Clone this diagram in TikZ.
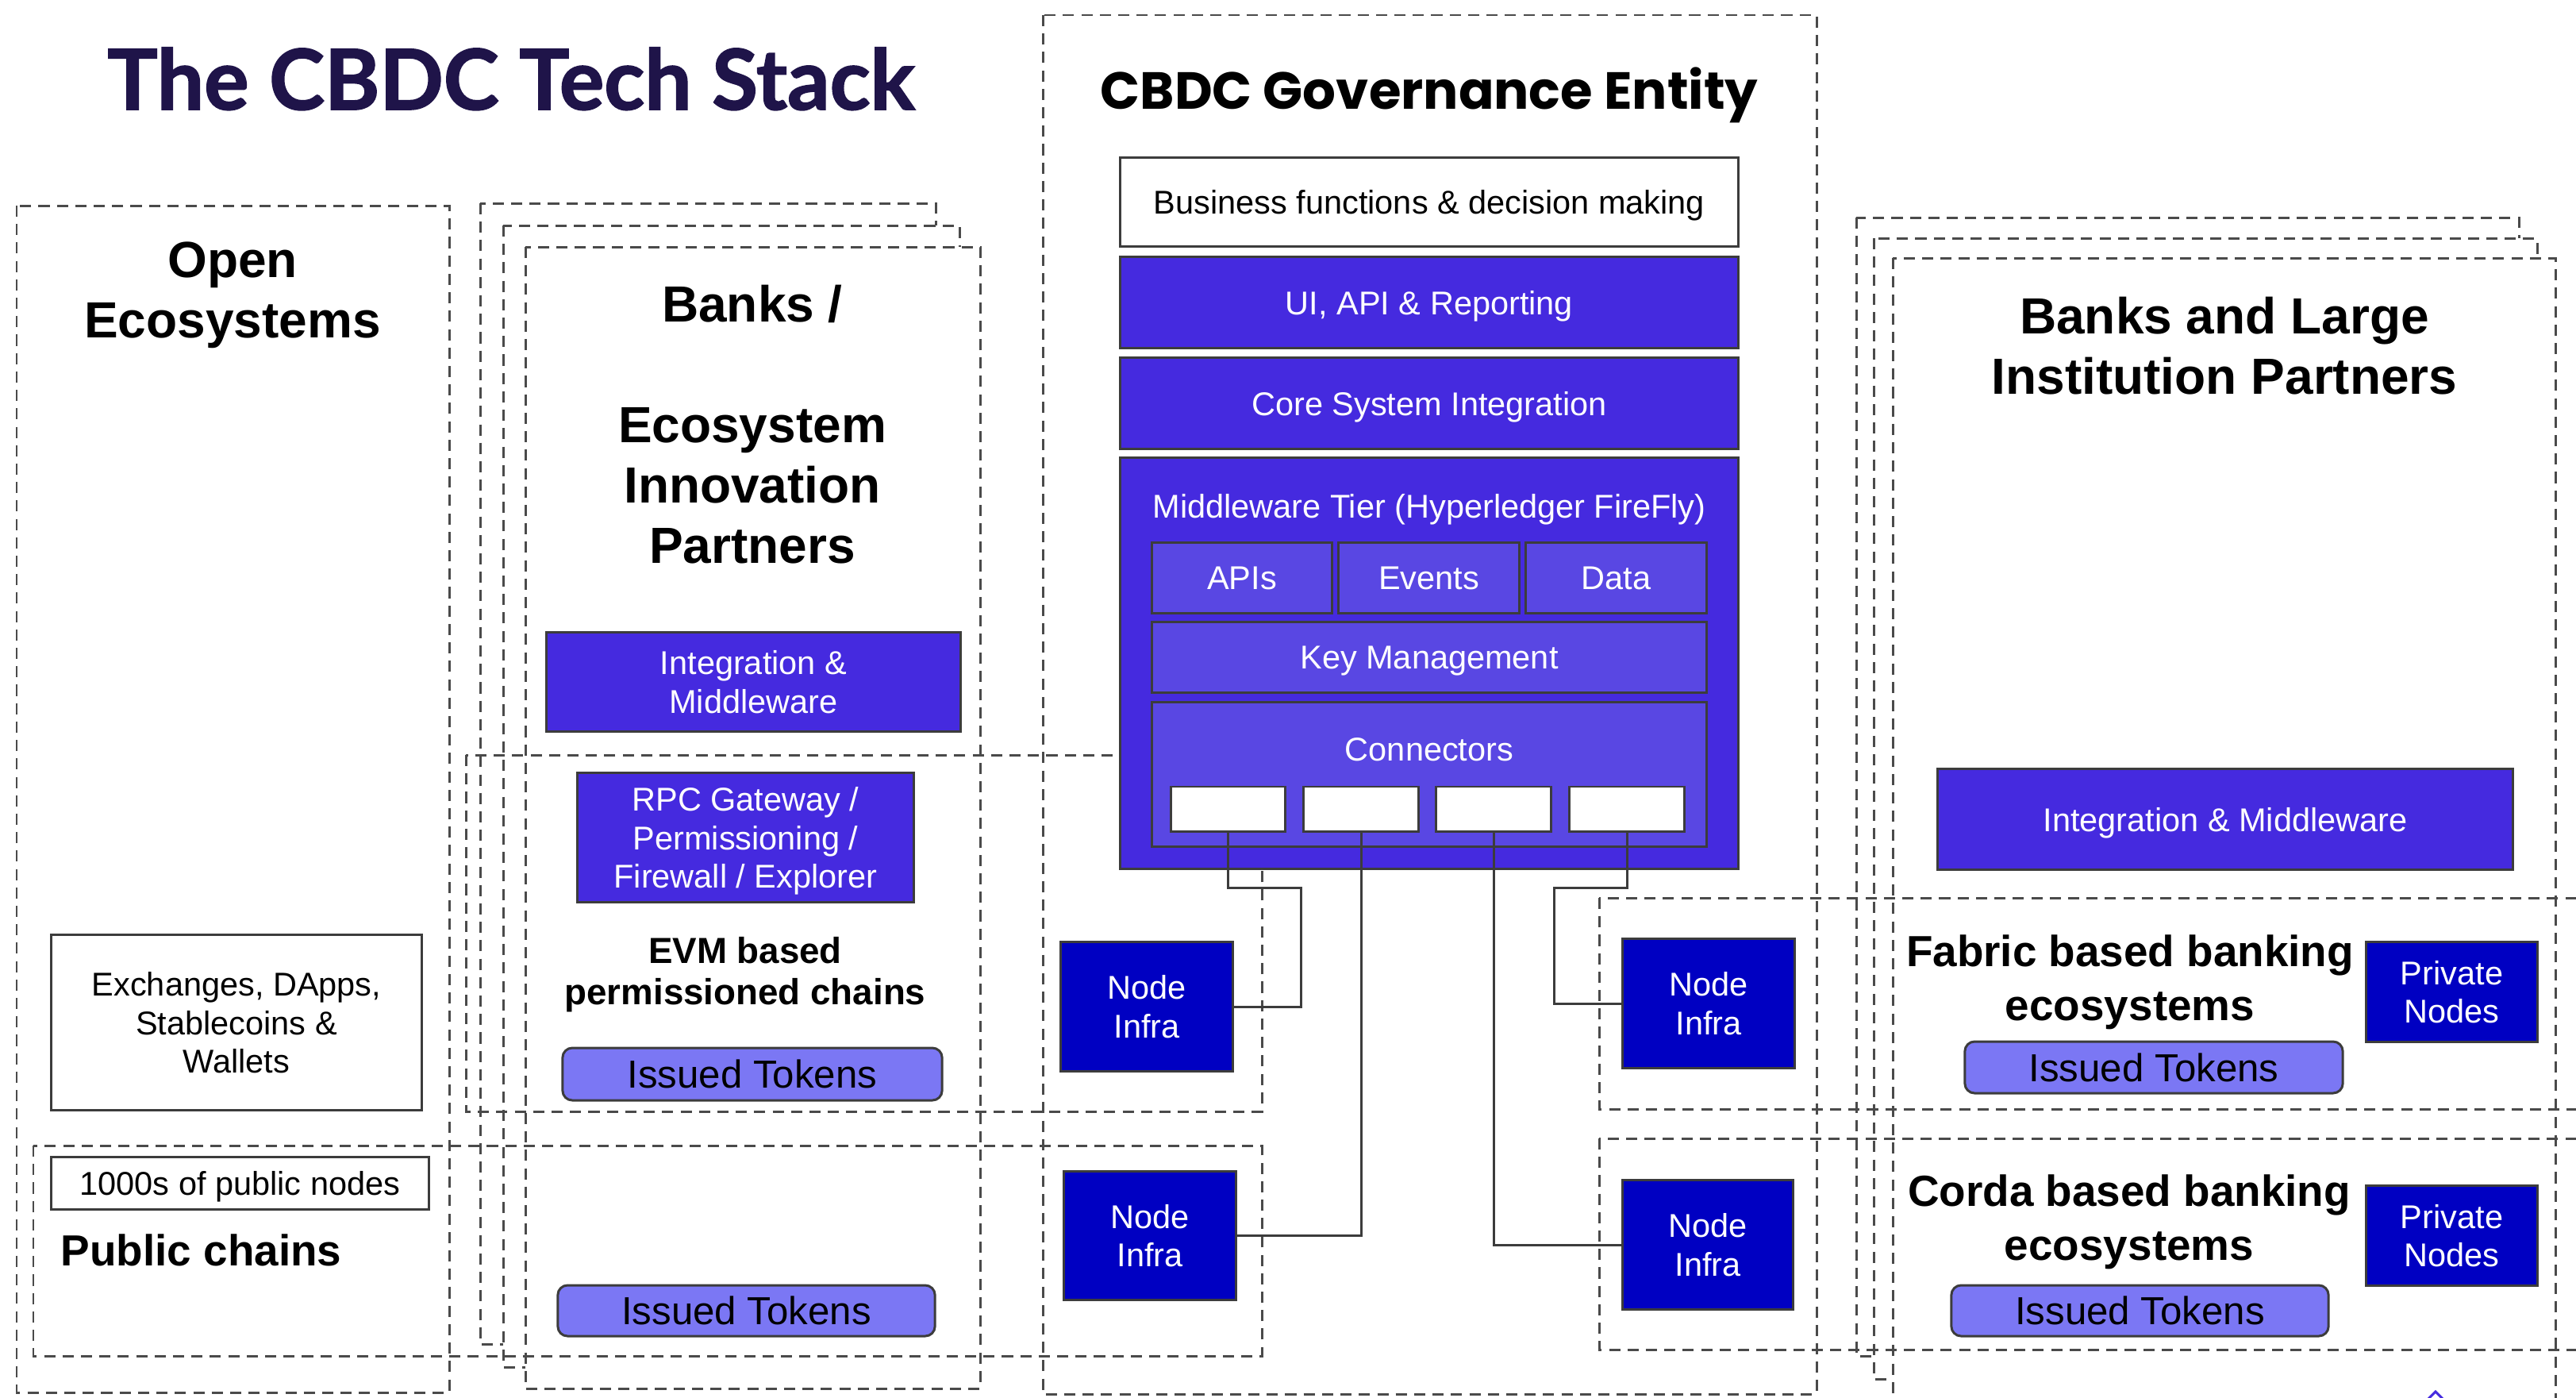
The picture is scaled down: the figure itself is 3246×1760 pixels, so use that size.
\documentclass[tikz,border=0pt]{standalone}
\usepackage{fontspec}
\setmainfont{Liberation Sans}
\newfontfamily\titlefont{Lato}[BoldFeatures={FakeBold=1.6}]
\newfontfamily\govfont{Poppins}
\definecolor{titlenavy}{HTML}{1F1449}
\definecolor{tierpurple}{HTML}{452ADF}
\definecolor{innerpurple}{HTML}{5947E3}
\definecolor{infrablue}{HTML}{0000C2}
\definecolor{tokenlilac}{HTML}{7B77F4}
\definecolor{dashgray}{HTML}{4A4A4A}
\definecolor{edgegray}{HTML}{3C3C3C}

\begin{document}
\begin{tikzpicture}[x=0.01cm, y=-0.01cm,
    dashbox/.style={draw=dashgray, line width=0.85pt, dash pattern=on 4pt off 2.6pt},
    card/.style={dashbox, fill=white},
    boxsize/.style 2 args={minimum width=#1cm, minimum height=#2cm},
    plainbox/.style={draw=edgegray, line width=0.85pt, fill=white, align=center, inner sep=0pt,
        text depth=0pt, font=\fontsize{11.8pt}{13.7pt}\selectfont},
    tierbox/.style={plainbox, fill=tierpurple, text=white},
    innerbox/.style={plainbox, fill=innerpurple, text=white},
    infrabox/.style={plainbox, fill=infrablue, text=white},
    tokenbox/.style={plainbox, fill=tokenlilac, rounded corners=3.5pt,
        font=\fontsize{14pt}{16pt}\selectfont},
    headtext/.style={align=center, inner sep=0pt, font=\bfseries\fontsize{18.2pt}{21.6pt}\selectfont},
    chaintext/.style={align=center, inner sep=0pt, font=\bfseries\fontsize{15.6pt}{19.3pt}\selectfont},
    evmtext/.style={align=center, inner sep=0pt, font=\bfseries\fontsize{13pt}{14.8pt}\selectfont},
    tiertext/.style={anchor=base, inner sep=0pt, text=white, font=\fontsize{11.8pt}{13.7pt}\selectfont},
    link/.style={draw=edgegray, line width=0.85pt}]
			%%%%% START %%%%%
			
			\fill[white] (0,0) rectangle (3246,1760);
			\useasboundingbox (0,0) rectangle (3246,1760);
			\clip (0,0) rectangle (3246,1760);
			
			\node[anchor=base, inner sep=0pt, text=titlenavy, font=\titlefont\bfseries\fontsize{30pt}{36pt}\selectfont] (title) at (644,138) {The CBDC Tech Stack};
			
			\draw[dashbox] (21,259) rectangle (566,1754);
			\draw[dashbox] (1314,19) rectangle (2289,1756);
			
			\draw[card] (605,256) rectangle (1179,1693);
			\draw[card] (634,284) rectangle (1209,1722);
			\draw[card] (662,311) rectangle (1235,1749);
			
			\draw[card] (2339,274) rectangle (3174,1708);
			\draw[card] (2361,300) rectangle (3197,1737);
			\draw[card] (2385,325) rectangle (3220,1790);
			
			\draw[dashbox] (587,951) rectangle (1590,1400);
			\draw[dashbox] (42,1443) rectangle (1590,1708);
			\draw[dashbox] (2015,1131) rectangle (3270,1397);
			\draw[dashbox] (2015,1434) rectangle (3270,1700);
			
			\node[anchor=base, inner sep=0pt, font=\govfont\bfseries\fontsize{18.7pt}{23pt}\selectfont] (govTitle) at (1801,137) {CBDC Governance Entity};
			
			\node[plainbox, boxsize={7.78}{1.11}] (bizfn) at (1801,254.5) {Business functions \& decision making};
			\node[tierbox, boxsize={7.78}{1.14}] (uiapi) at (1801,381) {UI, API \& Reporting};
			\node[tierbox, boxsize={7.78}{1.14}] (coresys) at (1801,508) {Core System Integration};
			\node[tierbox, boxsize={7.78}{5.17}] (mware) at (1801,835.5) {};
			\node[tiertext] (mwareTitle) at (1801,652) {Middleware Tier (Hyperledger FireFly)};
			\node[innerbox, boxsize={2.26}{0.88}] (apis) at (1565,728) {APIs};
			\node[innerbox, boxsize={2.27}{0.88}] (events) at (1800.5,728) {Events};
			\node[innerbox, boxsize={2.27}{0.88}] (data) at (2036.5,728) {Data};
			\node[innerbox, boxsize={6.98}{0.88}] (keymgmt) at (1801,828) {Key Management};
			\node[innerbox, boxsize={6.98}{1.81}] (connectors) at (1801,975.5) {};
			\node[tiertext] (connTitle) at (1801,958) {Connectors};
			\node[plainbox, boxsize={1.43}{0.56}] (conA) at (1547.5,1019) {};
			\node[plainbox, boxsize={1.44}{0.56}] (conB) at (1715,1019) {};
			\node[plainbox, boxsize={1.44}{0.56}] (conC) at (1882,1019) {};
			\node[plainbox, boxsize={1.44}{0.56}] (conD) at (2050,1019) {};
			
			\node[infrabox, boxsize={2.16}{1.62}] (infraA) at (1445,1268) {Node\\Infra};
			\node[infrabox, boxsize={2.16}{1.61}] (infraB) at (1449,1556.5) {Node\\Infra};
			\node[infrabox, boxsize={2.16}{1.62}] (infraC) at (2153,1264) {Node\\Infra};
			\node[infrabox, boxsize={2.14}{1.62}] (infraD) at (2152,1568) {Node\\Infra};
			
			\draw[link] (conA.south) -- ++(0,70) -- ++(92,0) |- (infraA.east);
			\draw[link] (conB.south) |- (infraB.east);
			\draw[link] (conC.south) |- (infraD.west);
			\draw[link] (conD.south) -- ++(0,70) -- ++(-92,0) |- (infraC.west);
			
			\node[headtext] (openEco) at (293,372) {Open\\Ecosystems};
			\node[plainbox, boxsize={4.66}{2.20}] (exchanges) at (298,1288) {Exchanges, DApps,\\Stablecoins \&\\Wallets};
			\node[plainbox, boxsize={4.75}{0.66}] (pubNodes) at (302.5,1490) {1000s of public nodes};
			\node[anchor=base west, inner sep=0pt, font=\bfseries\fontsize{15.6pt}{19pt}\selectfont] (publicText) at (76,1594) {Public chains};
			
			\node[headtext] (banksEco) at (948,534.5) {Banks /\\ \\Ecosystem\\Innovation\\Partners};
			\node[tierbox, boxsize={5.21}{1.24}] (integBanks) at (949.5,859) {Integration \&\\Middleware};
			\node[tierbox, boxsize={4.23}{1.62}] (rpc) at (939.5,1055) {RPC Gateway /\\Permissioning /\\Firewall / Explorer};
			\node[evmtext] (evmText) at (939,1227.5) {EVM based\\permissioned chains};
			\node[tokenbox, boxsize={4.78}{0.66}] (tokEvm) at (948,1353) {Issued Tokens};
			\node[tokenbox, boxsize={4.75}{0.64}] (tokPublic) at (940.5,1651) {Issued Tokens};
			
			\node[headtext] (banksLarge) at (2803,435.5) {Banks and Large\\Institution Partners};
			\node[tierbox, boxsize={7.24}{1.26}] (integLarge) at (2804,1032) {Integration \& Middleware};
			\node[chaintext] (fabricText) at (2684,1237) {Fabric based banking\\ecosystems};
			\node[infrabox, boxsize={2.15}{1.25}] (privFabric) at (3089.5,1249.5) {Private\\Nodes};
			\node[tokenbox, boxsize={4.76}{0.65}] (tokFabric) at (2714,1344.5) {Issued Tokens};
			\node[chaintext] (cordaText) at (2683,1539) {Corda based banking\\ecosystems};
			\node[infrabox, boxsize={2.15}{1.25}] (privCorda) at (3089.5,1556.5) {Private\\Nodes};
			\node[tokenbox, boxsize={4.75}{0.64}] (tokCorda) at (2696.5,1651) {Issued Tokens};
			
			\draw[draw=tierpurple, line width=0.85pt] (3058,1764) -- (3069,1753) -- (3080,1764);
			
			%%%%% END %%%%%
\end{tikzpicture}
\end{document}
